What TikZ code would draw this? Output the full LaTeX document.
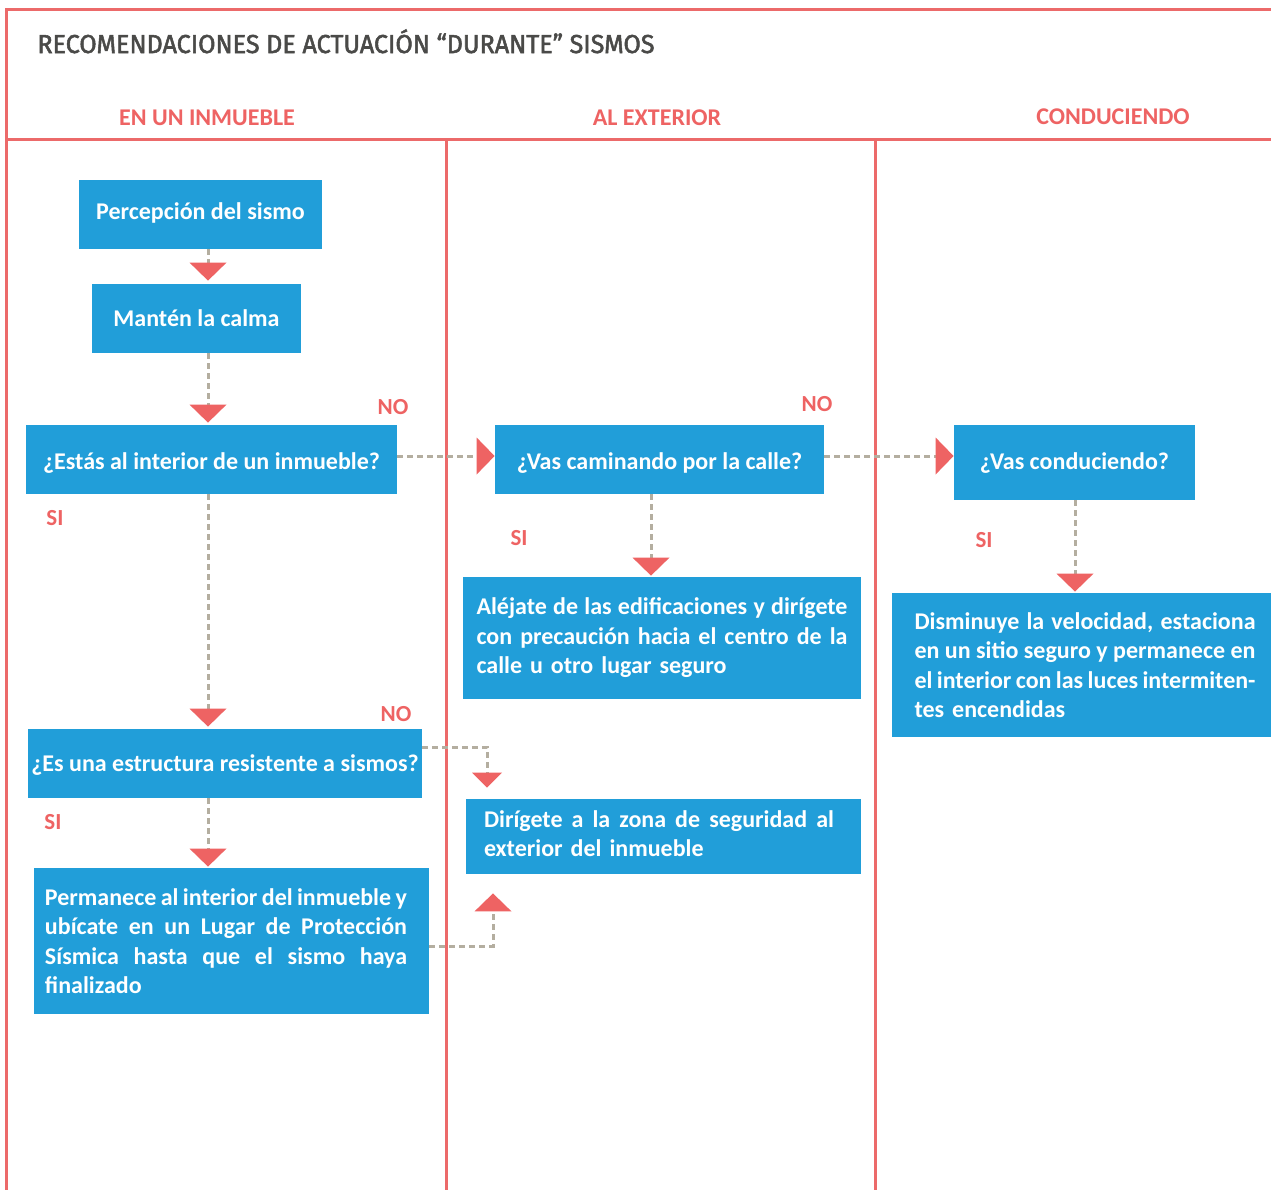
\documentclass[tikz,border=0pt]{standalone}
\usepackage{fontspec}
\setmainfont{Carlito}
\newfontfamily\titlefont{Fira Sans}[FakeBold=2]
\usetikzlibrary{arrows.meta}
\definecolor{boxblue}{HTML}{219ED9}
\definecolor{hdrred}{HTML}{EE6363}
\definecolor{linered}{HTML}{EC6A6A}
\definecolor{dashgrey}{HTML}{B4AEA0}
\definecolor{titlegrey}{HTML}{4A4A48}
\newcommand\jline[2]{\makebox[#1][s]{\spaceskip=0.226em plus 1em minus 0.17em\relax #2}}
\tikzset{
 box/.style={fill=boxblue,text=white,font=\bfseries\fontsize{12pt}{14.75pt}\selectfont,inner sep=0pt,anchor=center},
 hdr/.style={text=hdrred,font=\bfseries\fontsize{12pt}{14.4pt}\selectfont,inner sep=0pt},
 lbl/.style={text=hdrred,font=\bfseries\fontsize{11.5pt}{14pt}\selectfont,inner sep=0pt},
 frame/.style={draw=linered,line width=1.5pt},
 conn/.style={draw=dashgrey,line width=1.5pt,dash pattern=on 3pt off 2pt},
 bigtip/.style={-{Triangle[length=9pt,width=18.5pt,color=hdrred,line width=0pt]}},
 smalltip/.style={-{Triangle[length=7.5pt,width=15pt,color=hdrred,line width=0pt]}},
}
\begin{document}
\begin{tikzpicture}[x=0.5pt,y=-0.5pt]
\useasboundingbox[fill=white] (0,0) rectangle (1271,1190);
\clip (0,0) rectangle (1271,1190);
% frame lines
\draw[frame] (5,9) -- (1280,9);
\draw[frame] (6.5,9) -- (6.5,1200);
\draw[frame] (7,139) -- (1280,139);
\draw[frame] (446,139) -- (446,1200);
\draw[frame] (875,139) -- (875,1200);
% title and headers
\node[anchor=base west,text=titlegrey,inner sep=0pt] (title) at (37,53)
  {\titlefont\fontsize{13pt}{15pt}\selectfont\scalebox{0.966}[1]{RECOMENDACIONES DE ACTUACIÓN “DURANTE” SISMOS}};
\node[hdr] (h1) at (207,118) {EN UN INMUEBLE};
\node[hdr] (h2) at (657,118) {AL EXTERIOR};
\node[hdr] (h3) at (1113,117) {CONDUCIENDO};
% boxes
\node[box,minimum width=121.5pt,minimum height=34.5pt,text height=10pt,text depth=5.5pt] (b1) at (200.5,214.5) {Percepción del sismo};
\node[box,minimum width=104.5pt,minimum height=34.5pt,text height=10pt,text depth=2.5pt] (b2) at (196.5,318.5) {Mantén la calma};
\node[box,minimum width=185.5pt,minimum height=34.5pt,text height=10pt,text depth=0.5pt] (b3) at (211.5,459.5) {¿Estás al interior de un inmueble?};
\node[box,minimum width=164.5pt,minimum height=34.5pt,text height=10pt,text depth=0.5pt] (b4) at (659.5,459.5) {¿Vas caminando por la calle?};
\node[box,minimum width=120.5pt,minimum height=37.5pt,text height=10pt,text depth=3.5pt] (b5) at (1074.5,462.5) {¿Vas conduciendo?};
\node[box,minimum width=199pt,minimum height=61pt,text width=185.5pt,align=left] (b6) at (662,638)
  {\jline{185.5pt}{Aléjate de las edificaciones y dirígete}\\
   \jline{185.5pt}{con precaución hacia el centro de la}\\
   calle u otro lugar seguro};
\node[box,minimum width=193pt,minimum height=72pt,text width=170.5pt,align=left] (b7) at (1085,665)
  {\jline{170.5pt}{Disminuye la velocidad, estaciona}\\
   \jline{170.5pt}{en un sitio seguro y permanece en}\\
   \jline{170.5pt}{el interior con las luces intermiten-}\\
   tes encendidas};
\node[box,minimum width=197pt,minimum height=34.5pt,text height=10pt,text depth=2.5pt] (b8) at (225,763.5) {¿Es una estructura resistente a sismos?};
\node[box,minimum width=197.5pt,minimum height=37.5pt,text width=179.5pt,align=left] (b9) at (663.5,836.5)
  {\jline{175pt}{Dirígete a la zona de seguridad al}\\
   exterior del inmueble\par\kern3pt};
\node[box,minimum width=197.5pt,minimum height=73pt,text width=186.5pt,align=left] (b10) at (231.5,941)
  {\jline{181pt}{Permanece al interior del inmueble y}\\
   \jline{181pt}{ubícate en un Lugar de Protección}\\
   \jline{181pt}{Sísmica hasta que el sismo haya}\\
   finalizado};
% labels
\node[lbl] (no1) at (393,407) {NO};
\node[lbl] (no2) at (817,404) {NO};
\node[lbl] (no3) at (396,714) {NO};
\node[lbl] (si1) at (55,518) {SI};
\node[lbl] (si2) at (519,538) {SI};
\node[lbl] (si3) at (984,540) {SI};
\node[lbl] (si4) at (53,822) {SI};
% connector guides
\coordinate (cA) at (208,0);
\coordinate (rA) at (0,456);
\coordinate (cB) at (651,0);
\coordinate (cC) at (1075,0);
\coordinate (rB) at (0,747);
\coordinate (cD) at (487,0);
\coordinate (rC) at (0,946);
\coordinate (cE) at (493,0);
% connectors
\draw[conn,bigtip,shorten >=1.5pt] (b1.south -| cA) -- (b2.north -| cA);
\draw[conn,bigtip,shorten >=1pt] (b2.south -| cA) -- (b3.north -| cA);
\draw[conn,bigtip,shorten >=1pt] (b3.south -| cA) -- (b8.north -| cA);
\draw[conn,bigtip,shorten >=0.5pt] (b8.south -| cA) -- (b10.north -| cA);
\draw[conn,bigtip] (b3.east |- rA) -- (b4.west |- rA);
\draw[conn,bigtip] (b4.east |- rA) -- (b5.west |- rA);
\draw[conn,bigtip,shorten >=0.5pt] (b4.south -| cB) -- (b6.north -| cB);
\draw[conn,bigtip,shorten >=0.5pt] (b5.south -| cC) -- (b7.north -| cC);
\draw[conn,smalltip,shorten >=5.5pt] (b8.east |- rB) -| (b9.north -| cD);
\draw[conn,bigtip,shorten >=9.5pt] (b10.east |- rC) -| (b9.south -| cE);
\end{tikzpicture}
\end{document}
